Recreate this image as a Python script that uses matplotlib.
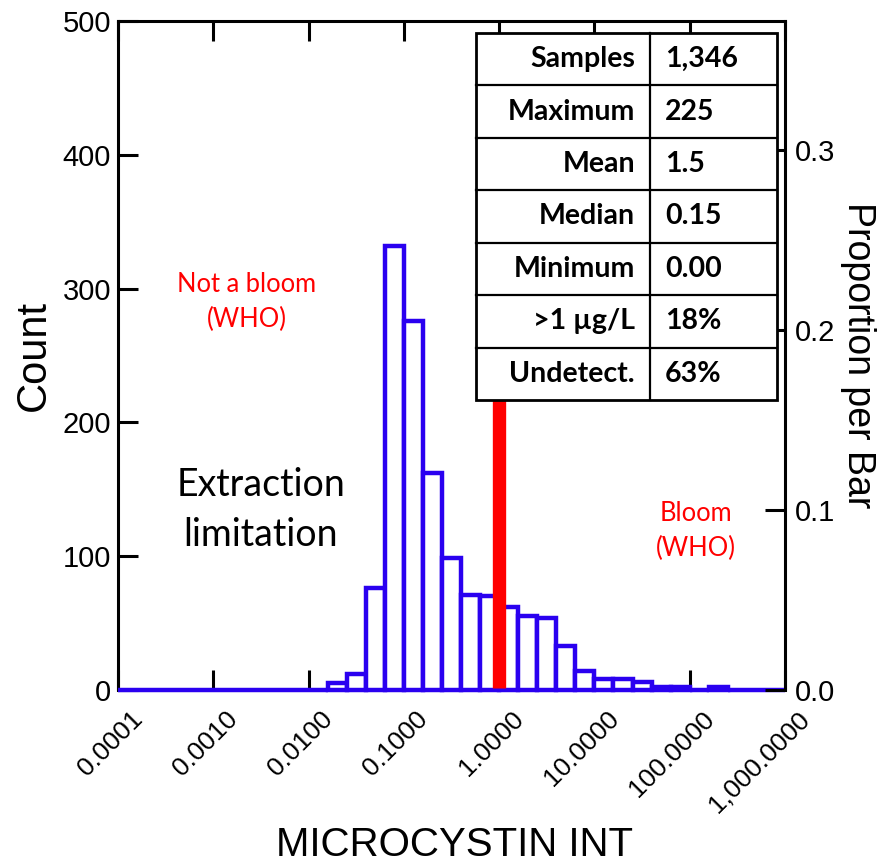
import numpy as np
import matplotlib
matplotlib.use("Agg")
import matplotlib.pyplot as plt
from matplotlib import font_manager
from matplotlib.ticker import FixedLocator, NullLocator, FormatStrFormatter
from matplotlib.transforms import ScaledTranslation
from matplotlib.patches import Rectangle

# ---- data -------------------------------------------------------------
# log10 bin edges: 0.2-decade bins from 1e-4 to 1e3
bin_exp_lo = -4.0
bin_exp_hi = 3.0
bin_step = 0.2
# sample counts per bin (35 bins, left to right)
counts = [0, 0, 0, 0, 0, 0, 0, 0, 0, 0,
          0, 5, 12, 76, 332, 276, 162, 99, 71, 70,
          62, 55, 54, 33, 14, 8, 8, 6, 2, 2,
          0, 2, 0, 0, 0]
n_samples = 1346
who_threshold = 1.0

x_ticks = [1e-4, 1e-3, 1e-2, 1e-1, 1e0, 1e1, 1e2, 1e3]
x_tick_labels = ["0.0001", "0.0010", "0.0100", "0.1000", "1.0000",
                 "10.0000", "100.0000", "1,000.0000"]
y_ticks = [0, 100, 200, 300, 400, 500]
prop_ticks = [0.0, 0.1, 0.2, 0.3]

stat_names = ["Samples", "Maximum", "Mean", "Median", "Minimum",
              ">1 \u00b5g/L", "Undetect."]
stat_values = ["1,346", "225", "1.5", "0.15", "0.00", "18%", "63%"]

# ---- fonts --------------------------------------------------------------
available = {f.name for f in font_manager.fontManager.ttflist}
sans = "Liberation Sans"
body = "Lato" if "Lato" in available else "Open Sans"

BLUE = "#2a00f0"
RED = "#ff0000"

fig = plt.figure(figsize=(8.8, 8.66), dpi=100)
W, H = 880, 866
x0, x1, ytop, ybot = 118, 785, 21, 690
ax = fig.add_axes([x0 / W, 1 - ybot / H, (x1 - x0) / W, (ybot - ytop) / H])

edges = 10 ** np.arange(bin_exp_lo, bin_exp_hi + bin_step / 2, bin_step)
ax.bar(edges[:-1], counts, width=np.diff(edges), align="edge",
       facecolor="white", edgecolor=BLUE, linewidth=3.2,
       zorder=3, clip_on=False)

# WHO bloom threshold
ax.plot([who_threshold, who_threshold], [1.5, 400], color=RED,
        linewidth=9.6, solid_capstyle="butt", zorder=4)

ax.set_xscale("log")
ax.set_xlim(1e-4, 1e3)
ax.set_ylim(0, 500)
ax.xaxis.set_major_locator(FixedLocator(x_ticks))
ax.xaxis.set_minor_locator(NullLocator())
ax.set_xticklabels(x_tick_labels)
ax.set_yticks(y_ticks)

for s in ax.spines.values():
    s.set_linewidth(2.2)
ax.spines["bottom"].set_visible(False)
ax.spines["right"].set_visible(False)

ax.tick_params(axis="y", which="major", direction="in", length=14.5, width=2.2,
               left=True, right=False, labelsize=21, pad=5)
ax.tick_params(axis="x", which="major", direction="in", length=14.5, width=2.2,
               top=True, bottom=True, labelsize=19, pad=12)
for lab in ax.get_yticklabels():
    lab.set_fontfamily(sans)
for lab in ax.get_xticklabels():
    lab.set_fontfamily(sans)
    lab.set_rotation(45)
    lab.set_ha("right")
    lab.set_va("top")
    lab.set_rotation_mode("anchor")
    lab.set_transform(lab.get_transform() + ScaledTranslation(12 / 100, 0, fig.dpi_scale_trans))

ax.set_ylabel("Count", fontfamily=sans, fontsize=30, va="center")
ax.yaxis.set_label_coords((34 - x0) / (x1 - x0), 0.5)
ax.text(0.505, (ybot - 856) / (ybot - ytop), "MICROCYSTIN INT", transform=ax.transAxes,
        ha="center", va="baseline", fontfamily=sans, fontsize=29)

# proportion axis on the right
ax2 = ax.twinx()
ax2.set_ylim(0, 500 / n_samples)
ax2.set_yticks(prop_ticks)
ax2.yaxis.set_major_formatter(FormatStrFormatter("%.1f"))
for k in ["left", "top", "bottom"]:
    ax2.spines[k].set_visible(False)
ax2.spines["right"].set_linewidth(2.2)
ax2.tick_params(axis="y", direction="in", length=14.5, width=2.2, labelsize=21, pad=7)
for lab in ax2.get_yticklabels():
    lab.set_fontfamily(sans)
ax2.set_ylabel("Proportion per Bar", fontfamily=sans, fontsize=27, rotation=270,
               va="center")
ax2.yaxis.set_label_coords(1.1094, 0.5)

# annotations
def axfrac(px, py):
    return (px - x0) / (x1 - x0), (ybot - py) / (ybot - ytop)

ax2.text(*axfrac(247, 302), "Not a bloom\n(WHO)", transform=ax2.transAxes, color=RED,
         ha="center", va="center", fontfamily=body, fontsize=18.4, linespacing=1.5)
ax2.text(*axfrac(696, 531), "Bloom\n(WHO)", transform=ax2.transAxes, color=RED,
         ha="center", va="center", fontfamily=body, fontsize=18.4, linespacing=1.5)
ax2.text(*axfrac(261, 510), "Extraction\nlimitation", transform=ax2.transAxes,
         color="black", ha="center", va="center", fontfamily=body, fontsize=27,
         linespacing=1.5)

# summary statistics table
tl, tr, tdiv, tt, tb = 476, 777, 650, 33, 400
nrows = len(stat_names)
rh = (tb - tt) / nrows
bx0, by0 = axfrac(tl, tb)
bx1, by1 = axfrac(tr, tt)
ax2.add_patch(Rectangle((bx0, by0), bx1 - bx0, by1 - by0, transform=ax2.transAxes,
                        facecolor="white", edgecolor="black", linewidth=2.0,
                        zorder=5, clip_on=False))
dx, _ = axfrac(tdiv, tt)
ax2.plot([dx, dx], [by0, by1], transform=ax2.transAxes, color="black", lw=1.6,
         zorder=6, clip_on=False)
for i in range(1, nrows):
    _, yy = axfrac(tl, tt + i * rh)
    ax2.plot([bx0, bx1], [yy, yy], transform=ax2.transAxes, color="black", lw=1.6,
             zorder=6, clip_on=False)
for i, (nm, val) in enumerate(zip(stat_names, stat_values)):
    cy = tt + (i + 0.5) * rh
    ax2.text(*axfrac(tdiv - 15, cy), nm, transform=ax2.transAxes, ha="right",
             va="center", fontfamily=body, fontweight="bold", fontsize=20.5, zorder=7)
    ax2.text(*axfrac(tdiv + 15, cy), val, transform=ax2.transAxes, ha="left",
             va="center", fontfamily=body, fontweight="bold", fontsize=20.5, zorder=7)

fig.savefig("out.png", dpi=100)
